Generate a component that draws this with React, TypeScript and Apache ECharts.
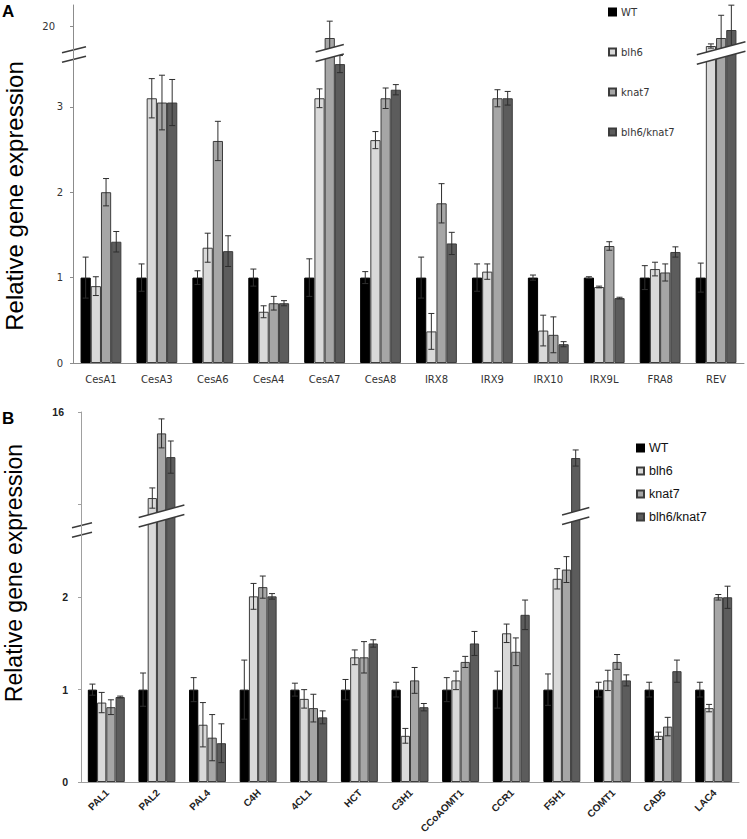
import React, { useEffect, useRef } from 'react';
import * as echarts from 'echarts';

// ---------- data ----------
const genotypes = ['WT', 'blh6', 'knat7', 'blh6/knat7'];
const barColors = ['#000000', '#d9d9d9', '#a6a6a6', '#5c5c5c'];

const genesA = ['CesA1', 'CesA3', 'CesA6', 'CesA4', 'CesA7', 'CesA8', 'IRX8', 'IRX9', 'IRX10', 'IRX9L', 'FRA8', 'REV'];
const wtA = [1, 1, 1, 1, 1, 1, 1, 1, 1, 1, 1, 1];
const wtErrA = [0.24, 0.16, 0.08, 0.1, 0.22, 0.07, 0.24, 0.16, 0.03, 0.01, 0.14, 0.17];
const blh6A = [0.9, 3.1, 1.35, 0.6, 3.1, 2.61, 0.37, 1.07, 0.38, 0.89, 1.1, 15.26];
const blh6ErrA = [0.11, 0.23, 0.17, 0.07, 0.11, 0.1, 0.21, 0.09, 0.18, 0.01, 0.08, 0.5];
const knat7A = [2.0, 3.05, 2.6, 0.7, 17.16, 3.1, 1.87, 3.1, 0.33, 1.37, 1.06, 17.16];
const knat7ErrA = [0.16, 0.32, 0.23, 0.08, 4.0, 0.12, 0.23, 0.1, 0.21, 0.05, 0.1, 5.4];
const dkA = [1.42, 3.05, 1.31, 0.7, 3.5, 3.2, 1.4, 3.1, 0.22, 0.76, 1.3, 19.06];
const dkErrA = [0.12, 0.27, 0.18, 0.03, 0.1, 0.06, 0.13, 0.08, 0.03, 0.01, 0.06, 5.9];

const genesB = ['PAL1', 'PAL2', 'PAL4', 'C4H', '4CL1', 'HCT', 'C3H1', 'CCoAOMT1', 'CCR1', 'F5H1', 'COMT1', 'CAD5', 'LAC4'];
const wtB = [1, 1, 1, 1, 1, 1, 1, 1, 1, 1, 1, 1, 1];
const wtErrB = [0.06, 0.18, 0.13, 0.32, 0.07, 0.11, 0.08, 0.13, 0.2, 0.17, 0.08, 0.08, 0.08];
const blh6B = [0.86, 12.26, 0.62, 2.01, 0.9, 1.35, 0.5, 1.1, 1.61, 2.2, 1.1, 0.5, 0.8];
const blh6ErrB = [0.11, 0.44, 0.24, 0.14, 0.1, 0.08, 0.08, 0.1, 0.1, 0.11, 0.11, 0.04, 0.04];
const knat7B = [0.81, 15.07, 0.48, 2.11, 0.8, 1.35, 1.1, 1.3, 1.41, 2.3, 1.3, 0.6, 2.0];
const knat7ErrB = [0.08, 0.63, 0.25, 0.12, 0.15, 0.17, 0.14, 0.06, 0.15, 0.14, 0.08, 0.1, 0.03];
const dkB = [0.92, 14.04, 0.42, 2.01, 0.7, 1.5, 0.81, 1.5, 1.81, 14.0, 1.1, 1.2, 2.0];
const dkErrB = [0.01, 0.7, 0.21, 0.03, 0.07, 0.04, 0.04, 0.13, 0.16, 0.35, 0.06, 0.12, 0.12];

// axis ranges / ticks
const lowTicksA = [0, 1, 2, 3];
const upTicksA = [20];
const lowTicksB = [0, 1, 2];
const upTicksB = [12, 16];
const upLabelsB = [16];

// ---------- layout ----------
const A = { left: 73, width: 671, lowTop: 53, lowH: 310, upTop: 5, upH: 48, lowMax: 3.63, upMin: 13.6, upMax: 25 };
const B = { left: 81, width: 658, lowTop: 516, lowH: 266, upTop: 412, upH: 104, lowMax: 2.88, upMin: 11.48, upMax: 16 };
const CAT_GAP = 0.27;
const BREAK_GAP = 9.5;
const BREAK_SLOPE = 0.27;

function breakShape(xL: number, xR: number, yc: number, gap: number, slope: number) {
  const w = xR - xL;
  const u1 = [xL, yc - gap / 2 + (slope * w) / 2];
  const u2 = [xR, yc - gap / 2 - (slope * w) / 2];
  const l1 = [xL, yc + gap / 2 + (slope * w) / 2];
  const l2 = [xR, yc + gap / 2 - (slope * w) / 2];
  return [
    { type: 'polygon', shape: { points: [u1, u2, l2, l1] }, style: { fill: '#ffffff', stroke: null } },
    { type: 'line', shape: { x1: u1[0], y1: u1[1], x2: u2[0], y2: u2[1] }, style: { stroke: '#3a3a3a', lineWidth: 1.5 } },
    { type: 'line', shape: { x1: l1[0], y1: l1[1], x2: l2[0], y2: l2[1] }, style: { stroke: '#3a3a3a', lineWidth: 1.5 } },
  ];
}

function errRender(params: any, api: any) {
  const c = api.value(0);
  const s = api.value(1);
  const v = api.value(2);
  const e = api.value(3);
  const cs = params.coordSys;
  const band = api.size([1, 0])[0];
  const bw = (band * (1 - CAT_GAP)) / 4;
  const cx = api.coord([c, v])[0] + (s - 1.5) * bw;
  const top = api.coord([c, v + e])[1];
  const bot = api.coord([c, v - e])[1];
  const yMin = cs.y;
  const yMax = cs.y + cs.height;
  const t = Math.max(top, yMin);
  const b = Math.min(bot, yMax);
  const st = { stroke: '#2e2e2e', lineWidth: 1 };
  const children: any[] = [];
  if (b > t) children.push({ type: 'line', shape: { x1: cx, y1: t, x2: cx, y2: b }, style: st });
  if (top >= yMin - 0.5) children.push({ type: 'line', shape: { x1: cx - 3, y1: top, x2: cx + 3, y2: top }, style: st });
  if (bot <= yMax + 0.5) children.push({ type: 'line', shape: { x1: cx - 3, y1: bot, x2: cx + 3, y2: bot }, style: st });
  return { type: 'group', children };
}

function breakRender(params: any, api: any) {
  const c = api.value(0);
  const first = api.value(1);
  const last = api.value(2);
  const cs = params.coordSys;
  const band = api.size([1, 0])[0];
  const bw = (band * (1 - CAT_GAP)) / 4;
  const cx = api.coord([c, 0])[0];
  const xL = cx + (first - 2) * bw - 9;
  const xR = cx + (last - 1) * bw + 9;
  return { type: 'group', children: breakShape(xL, xR, cs.y, BREAK_GAP, BREAK_SLOPE) };
}

function buildPanel(cfg: typeof A, vals: number[][], errs: number[][], gridBase: number) {
  const series: any[] = [];
  const lowIdx = gridBase;
  const upIdx = gridBase + 1;
  vals.forEach((arr, s) => {
    const common = {
      type: 'bar',
      name: genotypes[s],
      barGap: '0%',
      barCategoryGap: CAT_GAP * 100 + '%',
      itemStyle: { color: barColors[s], borderColor: s === 0 ? '#000' : '#3c3c3c', borderWidth: 1 },
      clip: true,
      z: 2,
    };
    series.push({ ...common, xAxisIndex: lowIdx, yAxisIndex: lowIdx, data: arr.slice() });
    series.push({
      ...common,
      xAxisIndex: upIdx,
      yAxisIndex: upIdx,
      data: arr.map((v) => (v > cfg.upMin ? v : '-')),
    });
  });
  const lowErr: number[][] = [];
  const upErr: number[][] = [];
  const breaks: number[][] = [];
  const nCat = vals[0].length;
  for (let c = 0; c < nCat; c++) {
    let first = -1;
    let last = -1;
    for (let s = 0; s < 4; s++) {
      const v = vals[s][c];
      const e = errs[s][c];
      if (v <= cfg.lowMax) lowErr.push([c, s, v, e]);
      else {
        upErr.push([c, s, v, e]);
        if (first < 0) first = s;
        last = s;
      }
    }
    if (first >= 0) breaks.push([c, first, last]);
  }
  series.push({
    type: 'custom', xAxisIndex: lowIdx, yAxisIndex: lowIdx, data: lowErr, renderItem: errRender,
    encode: { x: 0, y: 2 }, z: 5, silent: true,
  });
  series.push({
    type: 'custom', xAxisIndex: upIdx, yAxisIndex: upIdx, data: upErr, renderItem: errRender,
    encode: { x: 0, y: 2 }, z: 5, silent: true,
  });
  series.push({
    type: 'custom', xAxisIndex: lowIdx, yAxisIndex: lowIdx, data: breaks, renderItem: breakRender,
    encode: { x: 0, y: 1 }, z: 10, silent: true,
  });
  return series;
}

export default function App() {
  const ref = useRef<HTMLDivElement>(null);
  useEffect(() => {
    document.body.style.margin = '0';
    if (!ref.current) return;
    const chart = echarts.init(ref.current, undefined, { renderer: 'svg' });
    const axisGrayA = '#8c8c8c';
    const axisGrayB = '#a0a0a0';
    const labA = { fontFamily: 'DejaVu Sans', fontSize: 10, color: '#333' };
    const labB = { fontFamily: 'Liberation Sans', fontSize: 10.5, fontWeight: 'bold', color: '#222' };

    const grids = [
      { left: A.left, top: A.lowTop, width: A.width, height: A.lowH },
      { left: A.left, top: A.upTop, width: A.width, height: A.upH },
      { left: B.left, top: B.lowTop, width: B.width, height: B.lowH },
      { left: B.left, top: B.upTop, width: B.width, height: B.upH },
    ].map((g) => ({ ...g, containLabel: false, outerBoundsMode: 'none' }));

    const xAxis = [
      {
        type: 'category', gridIndex: 0, data: genesA,
        axisLine: { lineStyle: { color: axisGrayA } },
        axisTick: { length: 4, interval: 0, lineStyle: { color: axisGrayA } },
        axisLabel: { ...labA, interval: 0, margin: 11 },
      },
      { type: 'category', gridIndex: 1, data: genesA, show: false },
      {
        type: 'category', gridIndex: 2, data: genesB,
        axisLine: { lineStyle: { color: axisGrayB } },
        axisTick: { length: 4, interval: 0, lineStyle: { color: axisGrayB } },
        axisLabel: { show: false },
      },
      { type: 'category', gridIndex: 3, data: genesB, show: false },
    ];

    const yAxis = [
      {
        type: 'value', gridIndex: 0, min: 0, max: A.lowMax, splitLine: { show: false },
        axisLine: { show: true, lineStyle: { color: axisGrayA } },
        axisTick: { show: true, length: 3, customValues: lowTicksA, lineStyle: { color: axisGrayA } },
        axisLabel: { ...labA, customValues: lowTicksA, margin: 10 },
      },
      {
        type: 'value', gridIndex: 1, min: A.upMin, max: A.upMax, splitLine: { show: false },
        axisLine: { show: true, lineStyle: { color: axisGrayA } },
        axisTick: { show: true, length: 3, customValues: upTicksA, lineStyle: { color: axisGrayA } },
        axisLabel: { ...labA, customValues: upTicksA, margin: 18 },
      },
      {
        type: 'value', gridIndex: 2, min: 0, max: B.lowMax, splitLine: { show: false },
        axisLine: { show: true, lineStyle: { color: axisGrayB } },
        axisTick: { show: true, length: 3, customValues: lowTicksB, lineStyle: { color: axisGrayB } },
        axisLabel: { ...labB, customValues: lowTicksB, margin: 13 },
      },
      {
        type: 'value', gridIndex: 3, min: B.upMin, max: B.upMax, splitLine: { show: false },
        axisLine: { show: true, lineStyle: { color: axisGrayB } },
        axisTick: { show: true, length: 3, customValues: upTicksB, lineStyle: { color: axisGrayB } },
        axisLabel: { ...labB, customValues: upLabelsB, margin: 17 },
      },
    ];

    const series = [
      ...buildPanel(A, [wtA, blh6A, knat7A, dkA], [wtErrA, blh6ErrA, knat7ErrA, dkErrA], 0),
      ...buildPanel(B, [wtB, blh6B, knat7B, dkB], [wtErrB, blh6ErrB, knat7ErrB, dkErrB], 2),
    ];

    const graphic: any[] = [
      { type: 'text', left: 2, top: 3, style: { text: 'A', font: 'bold 17px "Liberation Sans", Arial', fill: '#000' } },
      { type: 'text', left: 2, top: 410, style: { text: 'B', font: 'bold 17px "Liberation Sans", Arial', fill: '#000' } },
      {
        type: 'text', x: 14, y: 196, rotation: Math.PI / 2,
        style: { text: 'Relative gene expression', font: '24px "Liberation Sans", Arial', fill: '#000', textAlign: 'center', textVerticalAlign: 'middle' },
      },
      {
        type: 'text', x: 14, y: 573, rotation: Math.PI / 2,
        style: { text: 'Relative gene expression', font: '23px "Liberation Sans", Arial', fill: '#000', textAlign: 'center', textVerticalAlign: 'middle' },
      },
      { type: 'group', z: 20, children: breakShape(A.left - 11, A.left + 13, A.lowTop + 1.5, BREAK_GAP, 0.25) },
      { type: 'group', z: 20, children: breakShape(B.left - 9, B.left + 11, 530, BREAK_GAP, 0.25) },
    ];

    const baseOption: any = {
      animation: false,
      backgroundColor: '#ffffff',
      grid: grids,
      xAxis,
      yAxis,
      legend: [
        {
          data: genotypes, orient: 'vertical', left: 603, top: 1, icon: 'rect',
          itemWidth: 7, itemHeight: 7, itemGap: 28, itemTextGap: 5, selectedMode: false,
          textStyle: { fontFamily: 'DejaVu Sans', fontSize: 10, color: '#333', lineHeight: 12 },
        },
        {
          data: genotypes, orient: 'vertical', left: 631, top: 436, icon: 'rect',
          itemWidth: 7, itemHeight: 7, itemGap: 9, itemTextGap: 3, selectedMode: false,
          textStyle: { fontFamily: 'Liberation Sans', fontSize: 12.5, color: '#111', lineHeight: 14 },
        },
      ],
      graphic,
      series,
    };
    chart.setOption(baseOption);

    // rotated category labels of panel B, positioned through the category axis
    const yLab = B.lowTop + B.lowH + 9;
    const labelEls = genesB.map((g, i) => {
      const x = chart.convertToPixel({ xAxisIndex: 2 } as any, i) as unknown as number;
      return {
        type: 'text',
        x: x + 1,
        y: yLab,
        rotation: Math.PI / 4,
        z: 30,
        style: {
          text: g,
          font: 'bold 10px "Liberation Sans", Arial',
          fill: '#222',
          textAlign: 'right',
          textVerticalAlign: 'middle',
        },
      };
    });
    chart.setOption({ graphic: [...graphic, ...labelEls] });
    return () => chart.dispose();
  }, []);
  return <div ref={ref} style={{ width: 747, height: 839 }} />;
}
